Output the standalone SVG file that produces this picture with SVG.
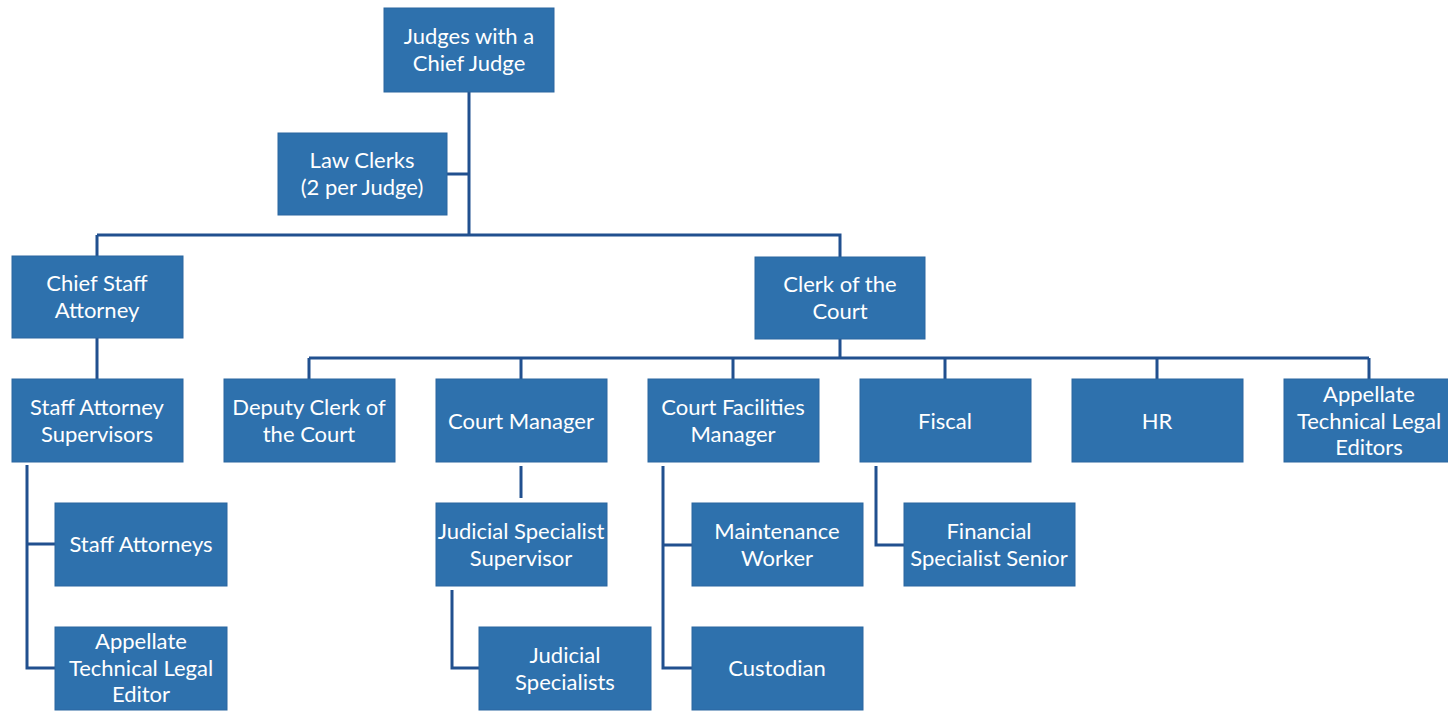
<svg xmlns="http://www.w3.org/2000/svg" width="1448" height="712" viewBox="0 0 1448 712">
<style>
.box{fill:#2e71ad;stroke:#2a66a0;stroke-width:1}
.t{fill:#ffffff;font-family:Lato,"Open Sans","Liberation Sans",sans-serif;font-size:22px;text-anchor:middle}
.c{fill:none;stroke:#21508f;stroke-width:3}
</style>
<rect width="1448" height="712" fill="#ffffff"/>
<g id="connectors">
<path class="c" d="M469 92V235M447 174H469M97 235H840V257M97 235V256M97 338V379"/>
<path class="c" d="M840 339V358M309 358H1369M309 358V379M521 358V379M733 358V379M945 358V379M1157 358V379M1369 358V379"/>
<path class="c" d="M27 465V668H55M27 544H55"/>
<path class="c" d="M521 466V498"/>
<path class="c" d="M452 590V668H479"/>
<path class="c" d="M663 466V668H692M663 545H692"/>
<path class="c" d="M876 466V545H904"/>
</g>
<g id="judges"><rect class="box" x="384" y="8" width="170" height="84"/><text class="t" x="469" y="44">Judges with a</text><text class="t" x="469" y="71">Chief Judge</text></g>
<g id="law-clerks"><rect class="box" x="278" y="133" width="169" height="82"/><text class="t" x="362" y="168">Law Clerks</text><text class="t" x="362" y="195">(2 per Judge)</text></g>
<g id="chief-staff-attorney"><rect class="box" x="12" y="256" width="171" height="82"/><text class="t" x="97" y="291">Chief Staff</text><text class="t" x="97" y="318">Attorney</text></g>
<g id="clerk-of-court"><rect class="box" x="755" y="257" width="170" height="82"/><text class="t" x="840" y="292">Clerk of the</text><text class="t" x="840" y="319">Court</text></g>
<g id="staff-attorney-supervisors"><rect class="box" x="12" y="379" width="171" height="83"/><text class="t" x="97" y="415">Staff Attorney</text><text class="t" x="97" y="442">Supervisors</text></g>
<g id="staff-attorneys"><rect class="box" x="55" y="503" width="172" height="83"/><text class="t" x="141" y="552">Staff Attorneys</text></g>
<g id="appellate-editor"><rect class="box" x="55" y="627" width="172" height="83"/><text class="t" x="141" y="649">Appellate</text><text class="t" x="141" y="676">Technical Legal</text><text class="t" x="141" y="702">Editor</text></g>
<g id="deputy-clerk"><rect class="box" x="224" y="379" width="171" height="83"/><text class="t" x="309" y="415">Deputy Clerk of</text><text class="t" x="309" y="442">the Court</text></g>
<g id="court-manager"><rect class="box" x="436" y="379" width="171" height="83"/><text class="t" x="521" y="429">Court Manager</text></g>
<g id="judicial-specialist-supervisor"><rect class="box" x="436" y="503" width="171" height="83"/><text class="t" x="521" y="539">Judicial Specialist</text><text class="t" x="521" y="566">Supervisor</text></g>
<g id="judicial-specialists"><rect class="box" x="479" y="627" width="172" height="83"/><text class="t" x="565" y="663">Judicial</text><text class="t" x="565" y="690">Specialists</text></g>
<g id="court-facilities-manager"><rect class="box" x="648" y="379" width="171" height="83"/><text class="t" x="733" y="415">Court Facilities</text><text class="t" x="733" y="442">Manager</text></g>
<g id="maintenance-worker"><rect class="box" x="692" y="503" width="171" height="83"/><text class="t" x="777" y="539">Maintenance</text><text class="t" x="777" y="566">Worker</text></g>
<g id="custodian"><rect class="box" x="692" y="627" width="171" height="83"/><text class="t" x="777" y="676">Custodian</text></g>
<g id="fiscal"><rect class="box" x="860" y="379" width="171" height="83"/><text class="t" x="945" y="429">Fiscal</text></g>
<g id="financial-specialist-senior"><rect class="box" x="904" y="503" width="171" height="83"/><text class="t" x="989" y="539">Financial</text><text class="t" x="989" y="566">Specialist Senior</text></g>
<g id="hr"><rect class="box" x="1072" y="379" width="171" height="83"/><text class="t" x="1157" y="429">HR</text></g>
<g id="appellate-editors"><rect class="box" x="1284" y="379" width="171" height="83"/><text class="t" x="1369" y="402">Appellate</text><text class="t" x="1369" y="429">Technical Legal</text><text class="t" x="1369" y="455">Editors</text></g>
</svg>
